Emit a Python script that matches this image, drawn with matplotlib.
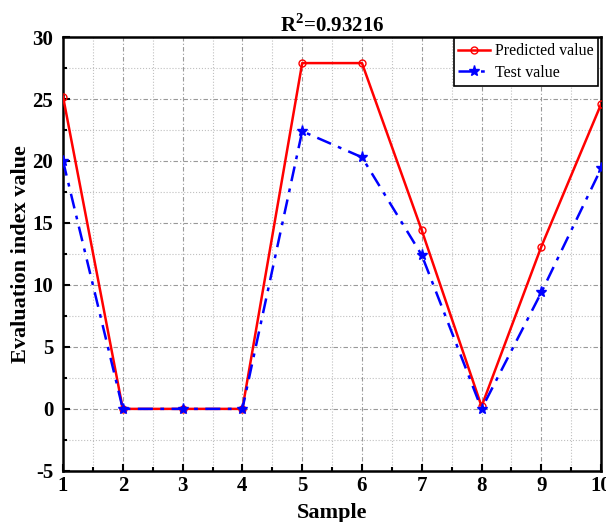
import matplotlib
matplotlib.use("Agg")
import matplotlib.pyplot as plt
from matplotlib.ticker import MultipleLocator

plt.rcParams['font.family'] = ['Liberation Serif', 'DejaVu Serif']
plt.rcParams['mathtext.fontset'] = 'custom'
plt.rcParams['mathtext.rm'] = 'Liberation Serif:bold'
plt.rcParams['mathtext.bf'] = 'Liberation Serif:bold'
plt.rcParams['axes.unicode_minus'] = False

samples = [1, 2, 3, 4, 5, 6, 7, 8, 9, 10]
predicted = [25.2, 0.0, 0.0, 0.0, 27.9, 27.9, 14.4, 0.2, 13.1, 24.6]
test = [20.0, 0.0, 0.0, 0.0, 22.4, 20.3, 12.4, 0.0, 9.4, 19.4]

fig = plt.figure(figsize=(6.06, 5.22), dpi=100)
ax = fig.add_axes([0.104, 0.098, 0.888, 0.831])

ax.plot(samples, predicted, color='red', lw=1.8, marker='o', ms=5,
        mfc='none', mec='red', mew=1.0, label='Predicted value', zorder=3)
ax.plot(samples, test, color='blue', lw=1.8, ls=(0, (6, 3, 1.5, 3)),
        marker='*', ms=8, mfc='blue', mec='blue', label='Test value', zorder=4)

ax.set_xlim(1, 10)
ax.set_ylim(-5, 30)
ax.xaxis.set_major_locator(MultipleLocator(1))
ax.xaxis.set_minor_locator(MultipleLocator(0.5))
ax.yaxis.set_major_locator(MultipleLocator(5))
ax.yaxis.set_minor_locator(MultipleLocator(2.5))

ax.grid(True, which='major', color='#999999', ls=(0, (4, 2, 1, 2)), lw=0.8)
ax.grid(True, which='minor', color='#c0c0c0', ls=':', lw=0.8)
ax.set_axisbelow(True)

ax.tick_params(which='both', direction='in', width=1.5)
ax.tick_params(which='major', length=5, labelsize=15)
ax.tick_params(which='minor', length=3)
ax.tick_params(axis='y', which='major', pad=7)
for lab in ax.get_xticklabels() + ax.get_yticklabels():
    lab.set_fontweight('bold')
for sp in ax.spines.values():
    sp.set_linewidth(1.8)

ax.set_xlabel('Sample', fontsize=16, fontweight='bold', labelpad=5)
ax.set_ylabel('Evaluation index value', fontsize=16, fontweight='bold', labelpad=1)
ax.set_title(r'R$^{2}$=0.93216', fontsize=15, fontweight='bold', pad=4)

leg = ax.legend(loc='upper right', fontsize=11.5, frameon=True, fancybox=False,
                edgecolor='black', framealpha=1, handlelength=2.0,
                borderpad=0.3, labelspacing=0.35, handletextpad=0.3,
                borderaxespad=0.0, bbox_to_anchor=(0.995, 0.997))
leg.get_frame().set_linewidth(1.2)

fig.savefig('out.png', dpi=100)
